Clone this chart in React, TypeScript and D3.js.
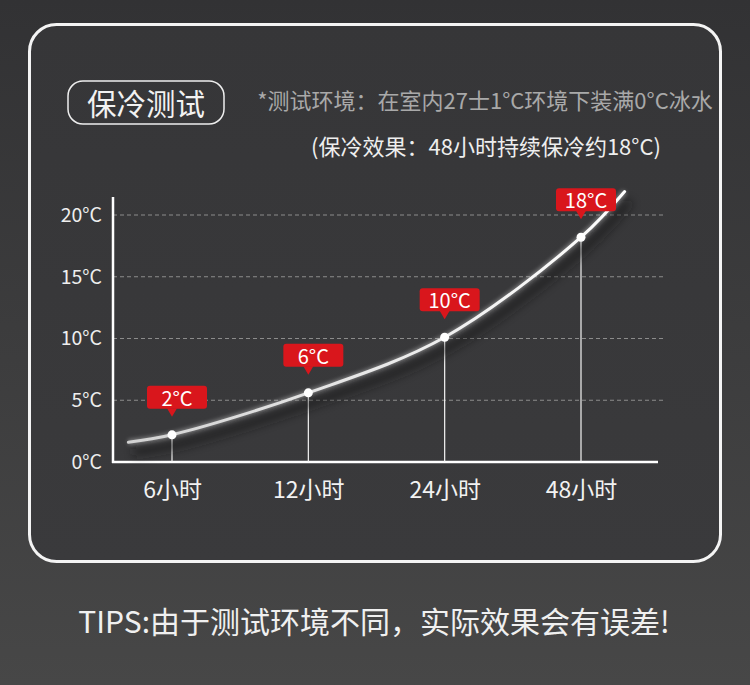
import React, { useRef, useEffect } from "react";
import * as d3 from "d3";

const hours = ["6小时", "12小时", "24小时", "48小时"];
const temps = [2.2, 5.6, 10.1, 18.2];
const tempLabels = ["2°C", "6°C", "10°C", "18°C"];
const yTicks = [0, 5, 10, 15, 20];
// where the drawn curve runs on past the first / last reading (index units, °C)
const curveHead = { at: -0.32, temp: 1.6 };
const curveTail = { at: 3.32, temp: 21.9 };

const title = "保冷测试";
const note = "*测试环境：在室内27士1°C环境下装满0°C冰水";
const result = "(保冷效果：48小时持续保冷约18°C)";
const tips = "TIPS:由于测试环境不同，实际效果会有误差!";

const W = 750;
const H = 685;
const FONT = `"Noto Sans CJK SC", "Noto Sans", sans-serif`;
const RED = "#d9161c";

const App = () => {
  const chartRef = useRef<SVGSVGElement | null>(null);

  useEffect(() => {
    if (!chartRef.current) return;

    const svg = d3.select(chartRef.current);
    svg.selectAll("*").remove();

    const defs = svg.append("defs");

    const bg = defs
      .append("linearGradient")
      .attr("id", "bg")
      .attr("x1", 0)
      .attr("y1", 0)
      .attr("x2", 0)
      .attr("y2", 1);
    bg.append("stop").attr("offset", 0).attr("stop-color", "#323234");
    bg.append("stop").attr("offset", 1).attr("stop-color", "#474747");

    const panelGrad = defs
      .append("linearGradient")
      .attr("id", "panel")
      .attr("x1", 0)
      .attr("y1", 0)
      .attr("x2", 0)
      .attr("y2", 1);
    panelGrad.append("stop").attr("offset", 0).attr("stop-color", "#363638");
    panelGrad.append("stop").attr("offset", 1).attr("stop-color", "#3a3a3c");

    const lineGrad = defs
      .append("linearGradient")
      .attr("id", "lineGrad")
      .attr("gradientUnits", "userSpaceOnUse")
      .attr("x1", 128)
      .attr("x2", 625)
      .attr("y1", 0)
      .attr("y2", 0);
    lineGrad.append("stop").attr("offset", 0).attr("stop-color", "#d2d2d2");
    lineGrad.append("stop").attr("offset", 1).attr("stop-color", "#ffffff");

    defs
      .append("filter")
      .attr("id", "shadow")
      .attr("x", "-20%")
      .attr("y", "-20%")
      .attr("width", "140%")
      .attr("height", "140%")
      .append("feGaussianBlur")
      .attr("stdDeviation", 5);

    defs
      .append("filter")
      .attr("id", "glow")
      .attr("x", "-20%")
      .attr("y", "-20%")
      .attr("width", "140%")
      .attr("height", "140%")
      .append("feGaussianBlur")
      .attr("stdDeviation", 2);

    // background + panel
    svg.append("rect").attr("width", W).attr("height", H).attr("fill", "url(#bg)");
    svg
      .append("rect")
      .attr("x", 29.5)
      .attr("y", 24.5)
      .attr("width", 691)
      .attr("height", 537)
      .attr("rx", 27)
      .attr("fill", "url(#panel)")
      .attr("stroke", "#f4f4f4")
      .attr("stroke-width", 3);

    // header
    svg
      .append("rect")
      .attr("x", 68)
      .attr("y", 81)
      .attr("width", 156)
      .attr("height", 43)
      .attr("rx", 15)
      .attr("fill", "none")
      .attr("stroke", "#eeeeee")
      .attr("stroke-width", 1.5);

    const text = (
      str: string,
      x: number,
      y: number,
      size: number,
      fill: string
    ) =>
      svg
        .append("text")
        .attr("x", x)
        .attr("y", y)
        .attr("text-anchor", "middle")
        .attr("dominant-baseline", "central")
        .style("font-family", FONT)
        .style("font-size", `${size}px`)
        .attr("fill", fill)
        .text(str);

    text(title, 146, 102, 29.5, "#f2f2f2");
    text(note, 485, 99, 22, "#a9a9a9");
    text(result, 486, 145, 22, "#eeeeee");
    text(tips, 374, 620, 30, "#f0f0f0");

    // scales
    const plot = { left: 113, right: 658, top: 197, bottom: 462 };
    const y = d3.scaleLinear().domain([0, 20]).range([plot.bottom, 215]);
    const x = d3.scalePoint<string>().domain(hours).range([172, 581]);
    const xi = d3
      .scaleLinear()
      .domain([0, hours.length - 1])
      .range(x.range());

    // dashed grid
    svg
      .append("g")
      .selectAll("line")
      .data(yTicks.filter((t) => t > 0))
      .enter()
      .append("line")
      .attr("x1", plot.left)
      .attr("x2", 665)
      .attr("y1", (d) => y(d))
      .attr("y2", (d) => y(d))
      .attr("stroke", "#8c8c8c")
      .attr("stroke-width", 1)
      .attr("stroke-dasharray", "4,3");

    // Y axis
    svg
      .append("g")
      .attr("transform", `translate(${plot.left},0)`)
      .call(
        d3
          .axisLeft(y)
          .tickValues(yTicks)
          .tickSize(0)
          .tickPadding(11)
          .tickFormat((d) => `${d}°C`)
      )
      .call((g) => g.select(".domain").remove())
      .selectAll("text")
      .style("font-size", "19.5px")
      .style("font-family", FONT)
      .attr("fill", "#eeeeee");

    // X axis
    svg
      .append("g")
      .attr("transform", `translate(0,${plot.bottom})`)
      .call(d3.axisBottom(x).tickSize(0).tickPadding(20))
      .call((g) => g.select(".domain").remove())
      .selectAll("text")
      .style("font-size", "23px")
      .style("font-family", FONT)
      .attr("fill", "#f2f2f2");

    svg
      .append("line")
      .attr("x1", plot.left)
      .attr("x2", plot.left)
      .attr("y1", plot.top)
      .attr("y2", plot.bottom + 1)
      .attr("stroke", "#ffffff")
      .attr("stroke-width", 2.5);
    svg
      .append("line")
      .attr("x1", plot.left - 1)
      .attr("x2", plot.right)
      .attr("y1", plot.bottom)
      .attr("y2", plot.bottom)
      .attr("stroke", "#ffffff")
      .attr("stroke-width", 2.5);

    // drop lines
    svg
      .append("g")
      .selectAll("line")
      .data(temps)
      .enter()
      .append("line")
      .attr("x1", (_, i) => x(hours[i]) || 0)
      .attr("x2", (_, i) => x(hours[i]) || 0)
      .attr("y1", (d) => y(d))
      .attr("y2", plot.bottom)
      .attr("stroke", "#f5f5f5")
      .attr("stroke-width", 1.2);

    // curve
    const curveData = [
      curveHead,
      ...temps.map((t, i) => ({ at: i, temp: t })),
      curveTail,
    ];
    const line = d3
      .line<{ at: number; temp: number }>()
      .x((d) => xi(d.at))
      .y((d) => y(d.temp))
      .curve(d3.curveCatmullRom.alpha(0.5));

    svg
      .append("path")
      .datum(curveData)
      .attr("transform", "translate(5,10)")
      .attr("fill", "none")
      .attr("stroke", "#141414")
      .attr("stroke-width", 8)
      .attr("opacity", 0.6)
      .attr("filter", "url(#shadow)")
      .attr("d", line);

    svg
      .append("path")
      .datum(curveData)
      .attr("fill", "none")
      .attr("stroke", "#ffffff")
      .attr("stroke-width", 5)
      .attr("opacity", 0.4)
      .attr("filter", "url(#glow)")
      .attr("d", line);

    svg
      .append("path")
      .datum(curveData)
      .attr("fill", "none")
      .attr("stroke", "url(#lineGrad)")
      .attr("stroke-width", 3)
      .attr("stroke-linecap", "round")
      .attr("d", line);

    // points
    svg
      .append("g")
      .selectAll("circle")
      .data(temps)
      .enter()
      .append("circle")
      .attr("cx", (_, i) => x(hours[i]) || 0)
      .attr("cy", (d) => y(d))
      .attr("r", 4.5)
      .attr("fill", "#ffffff");

    // red value tags
    const tags = svg
      .append("g")
      .selectAll("g")
      .data(temps)
      .enter()
      .append("g")
      .attr("transform", (d, i) => `translate(${(x(hours[i]) || 0) + 5},${y(d)})`);

    tags
      .append("rect")
      .attr("x", -30)
      .attr("y", -49)
      .attr("width", 60)
      .attr("height", 23)
      .attr("rx", 3)
      .attr("fill", RED);
    tags
      .append("path")
      .attr("d", "M-10,-26.5L0,-26.5L-5,-18Z")
      .attr("fill", RED);
    tags
      .append("text")
      .attr("x", 0)
      .attr("y", -37.5)
      .attr("text-anchor", "middle")
      .attr("dominant-baseline", "central")
      .style("font-family", FONT)
      .style("font-size", "20px")
      .attr("fill", "#ffffff")
      .text((_, i) => tempLabels[i]);
  }, []);

  return (
    <>
      <style>{"body{margin:0;background:#3a3a3a}"}</style>
      <svg ref={chartRef} width={W} height={H} style={{ display: "block" }} />
    </>
  );
};

export default App;
